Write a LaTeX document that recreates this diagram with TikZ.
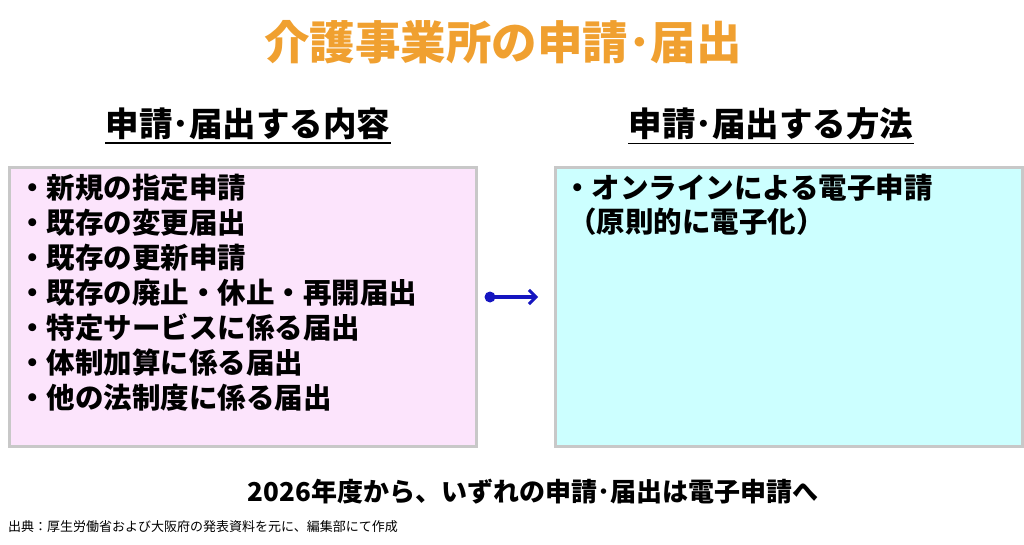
\documentclass[tikz,border=0pt]{standalone}
\usepackage{fontspec}
\usetikzlibrary{arrows.meta}
\setmainfont{Noto Sans CJK JP}
\definecolor{ttl}{HTML}{F0A030}
\definecolor{pinkf}{HTML}{FCE4FC}
\definecolor{cyanf}{HTML}{CCFFFF}
\definecolor{brd}{HTML}{C8C8C8}
\definecolor{arr}{HTML}{1515C0}
\tikzset{
 box/.style={draw=brd,line width=3pt,rectangle,anchor=north west,inner sep=0pt},
 item/.style={anchor=west,font=\fontsize{28.5}{31}\selectfont\bfseries,inner sep=0pt},
 head/.style={font=\fontsize{33.5}{36}\selectfont\bfseries,inner sep=0pt}
}
\begin{document}
\begin{tikzpicture}[x=1pt,y=-1pt]
\useasboundingbox (0,0) rectangle (1024,545);
\node[font=\fontsize{45.5}{50}\selectfont\bfseries,text=ttl] (title) at (503,42) {介護事業所の申請･届出};
\node[head] (h1) at (248,124) {申請･届出する内容};
\node[head] (h2) at (771,124) {申請･届出する方法};
\draw[line width=1.5pt] ([yshift=-3pt]h1.south west) -- ([yshift=-3pt]h1.south east);
\draw[line width=1.5pt] ([yshift=-3pt]h2.south west) -- ([yshift=-3pt]h2.south east);
\node[box,fill=pinkf,minimum width=467,minimum height=279] (L) at (8,166) {};
\node[box,fill=cyanf,minimum width=467,minimum height=279] (R) at (554,166) {};
\foreach \t [count=\i from 0] in {・新規の指定申請,・既存の変更届出,・既存の更新申請,・既存の廃止・休止・再開届出,・特定サービスに係る届出,・体制加算に係る届出,・他の法制度に係る届出}
  \node[item] (l\i) at (18,{188+\i*35}) {\t};
\node[item] (r0) at (563,188) {・オンラインによる電子申請};
\node[item] (r1) at (568,222) {（原則的に電子化）};
\coordinate (a0) at (490,297);
\coordinate (a1) at (538,297);
\fill[arr] (a0) circle (5.5);
\draw[arr,line width=3.5pt,-{Straight Barb[length=7pt,width=14pt,line width=3pt]}] (a0) -- (a1);
\node[font=\fontsize{26}{30}\selectfont\bfseries] (bot) at (533,492) {2026年度から、いずれの申請･届出は電子申請へ};
\node[anchor=west,font=\fontsize{13}{15}\selectfont,inner sep=0pt] (src) at (8,527) {出典：厚生労働省および大阪府の発表資料を元に、編集部にて作成};
\end{tikzpicture}
\end{document}
